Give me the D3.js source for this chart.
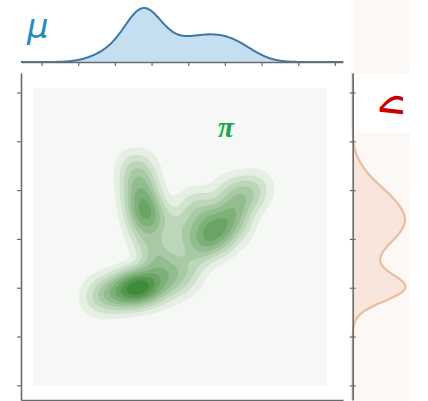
<!DOCTYPE html>
<html>
<head>
<meta charset="utf-8">
<script src="https://cdn.jsdelivr.net/npm/d3@7"></script>
<style>
  html, body { margin: 0; padding: 0; background: #ffffff; }
  svg { display: block; }
</style>
</head>
<body>
<svg id="chart" width="428" height="401"></svg>
<script>
// Joint sample: [x, y] observations, grouped by cluster (lower, upper-left, right, in-between)
const sampleX = [1.54, 1.81, 2.03, 2.22, 2.39, 2.47, 2.52, 2.66, 2.79, 2.85, 2.96, 3.18, 3.45, 3.78,
                 2.58, 2.63, 2.69, 2.71, 2.74, 2.77, 2.82, 2.85, 2.90, 3.01, 3.15, 2.96,
                 4.81, 4.65, 4.98, 4.49, 5.14, 4.38, 5.30, 4.27, 5.36, 5.58, 5.82, 4.21, 5.14, 4.46, 4.87,
                 3.67, 3.86, 3.37, 4.00];
const sampleY = [1.81, 1.87, 1.91, 1.93, 1.97, 1.97, 1.99, 2.01, 2.03, 2.03, 2.05, 2.07, 2.12, 2.18,
                 4.49, 4.29, 4.08, 3.92, 3.77, 3.65, 3.51, 3.34, 3.10, 2.81, 2.55, 3.49,
                 3.22, 3.06, 3.39, 2.93, 3.51, 3.22, 3.26, 2.77, 3.67, 3.88, 4.04, 3.71, 3.96, 3.49, 2.98,
                 3.34, 3.02, 2.53, 2.44];

// Axis ticks (no labels are shown)
const xTicks = [0, 1, 2, 3, 4, 5, 6, 7, 8];
const yTicks = [0, 1, 2, 3, 4, 5, 6];
const xDomain = [-0.56, 8.22];
const yDomain = [-0.30, 6.40];

// Panel labels
const labelTop = "μ";
const labelRight = "ν";
const labelJoint = "π";

// Density shading levels, as fractions of the peak density
const levelFractions = [0.05, 0.13, 0.22, 0.32, 0.42, 0.53, 0.64, 0.76, 0.88];

const svg = d3.select("#chart");

const x = d3.scaleLinear().domain(xDomain).range([21, 343]);
const y = d3.scaleLinear().domain(yDomain).range([400, 73]);

const points = sampleX.map((v, i) => [v, sampleY[i]]);

// ---------- backgrounds ----------
svg.append("rect").attr("x", 33).attr("y", 88).attr("width", 294).attr("height", 297)
  .attr("fill", "#f5f8f5");
svg.append("rect").attr("x", 354).attr("y", 0).attr("width", 56).attr("height", 401)
  .attr("fill", "#fcf8f6");
svg.append("rect").attr("x", 354).attr("y", 73).attr("width", 56).attr("height", 60)
  .attr("fill", "#ffffff");

// ---------- joint density ----------
const density = d3.contourDensity()
  .x(d => x(d[0]))
  .y(d => y(d[1]))
  .size([428, 401])
  .cellSize(2)
  .bandwidth(11);

const contourFn = density.contours(points);
const peak = contourFn.max;
const green = d3.interpolateRgb("#e6efe3", "#3f8b3b");

const jointG = svg.append("g");
levelFractions.forEach((f, i) => {
  jointG.append("path")
    .attr("d", d3.geoPath()(contourFn(f * peak)))
    .attr("fill", green(i / (levelFractions.length - 1)));
});

// ---------- marginal densities ----------
function gaussKde(values, bw, grid) {
  return grid.map(g => [g, d3.mean(values, v => Math.exp(-0.5 * ((g - v) / bw) ** 2)) / (bw * Math.sqrt(2 * Math.PI))]);
}

const xGrid = d3.range(xDomain[0], xDomain[1] + 0.001, 0.02);
const yGrid = d3.range(yDomain[0], yDomain[1] + 0.001, 0.02);
const kx = gaussKde(sampleX, 0.44, xGrid);
const ky = gaussKde(sampleY, 0.26, yGrid);

const topBase = 62;
const hTop = d3.scaleLinear().domain([0, d3.max(kx, d => d[1])]).range([topBase, 8]);
svg.append("path")
  .datum(kx)
  .attr("d", d3.area().x(d => x(d[0])).y0(topBase).y1(d => hTop(d[1])).curve(d3.curveBasis))
  .attr("fill", "#c4e0f0");
svg.append("path")
  .datum(kx)
  .attr("d", d3.line().x(d => x(d[0])).y(d => hTop(d[1])).curve(d3.curveBasis))
  .attr("fill", "none").attr("stroke", "#3b77aa").attr("stroke-width", 2);

const rightBase = 352.7;
const wRight = d3.scaleLinear().domain([0, d3.max(ky, d => d[1])]).range([rightBase, 405.5]);
svg.append("path")
  .datum(ky)
  .attr("d", d3.area().y(d => y(d[0])).x0(rightBase).x1(d => wRight(d[1])).curve(d3.curveBasis))
  .attr("fill", "#f8e6dc");
svg.append("path")
  .datum(ky)
  .attr("d", d3.line().y(d => y(d[0])).x(d => wRight(d[1])).curve(d3.curveBasis))
  .attr("fill", "none").attr("stroke", "#ecbd9c").attr("stroke-width", 2.2);

// ---------- axes ----------
function styleAxis(g) {
  g.selectAll("path.domain").attr("stroke", "#6b6b6b").attr("stroke-width", 1.6);
  g.selectAll(".tick line").attr("stroke", "#6b6b6b").attr("stroke-width", 1.2);
  g.selectAll(".tick text").remove();
}

svg.append("g").attr("transform", `translate(21,0)`)
  .call(d3.axisLeft(y).tickValues(yTicks).tickSizeInner(4).tickSizeOuter(0).tickFormat(""))
  .call(styleAxis);
svg.append("g").attr("transform", `translate(0,400)`)
  .call(d3.axisBottom(x).tickValues(xTicks).tickSizeInner(4).tickSizeOuter(0).tickFormat(""))
  .call(styleAxis);
svg.append("g").attr("transform", `translate(0,${topBase})`)
  .call(d3.axisBottom(x).tickValues(xTicks).tickSizeInner(4).tickSizeOuter(0).tickFormat(""))
  .call(styleAxis);
svg.append("g").attr("transform", `translate(${rightBase},0)`)
  .call(d3.axisLeft(y).tickValues(yTicks).tickSizeInner(3).tickSizeOuter(0).tickFormat(""))
  .call(styleAxis)
  .call(g => g.selectAll(".tick line").attr("x1", 3).attr("x2", -3));

// ---------- labels ----------
svg.append("text").attr("x", 27).attr("y", 38)
  .attr("font-family", "DejaVu Sans").attr("font-style", "italic").attr("font-size", 34)
  .attr("fill", "#2a8cbc").text(labelTop);
svg.append("text").attr("x", 218).attr("y", 137)
  .attr("font-family", "Liberation Serif").attr("font-style", "italic").attr("font-weight", "bold")
  .attr("font-size", 29)
  .attr("fill", "#14a84a").text(labelJoint);
svg.append("text")
  .attr("transform", "matrix(0,-1,-1,0,380,118)")
  .attr("font-family", "DejaVu Sans").attr("font-style", "italic").attr("font-size", 42)
  .attr("fill", "#c80000").text(labelRight);
</script>
</body>
</html>
